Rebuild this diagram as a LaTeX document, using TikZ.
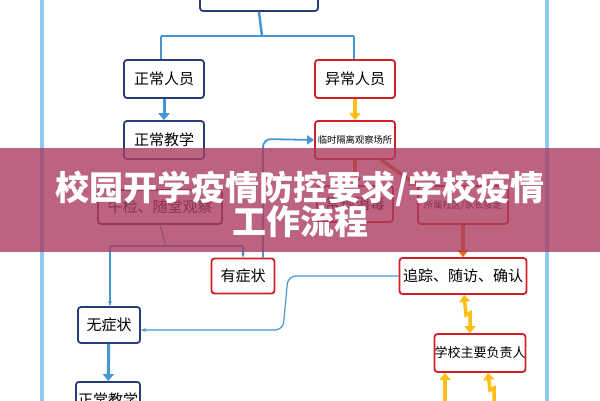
\documentclass[tikz,border=0pt]{standalone}
\usepackage{fontspec}
\newfontfamily\cjk{Noto Sans CJK SC}
\usetikzlibrary{arrows.meta}
\definecolor{bluebox}{RGB}{40,60,120}
\definecolor{redbox}{RGB}{210,30,40}
\definecolor{lblue}{RGB}{70,150,210}
\definecolor{frame}{RGB}{140,200,240}
\definecolor{yel}{RGB}{250,190,20}
\definecolor{ora}{RGB}{230,110,20}
\definecolor{banner}{RGB}{170,60,95}
\tikzset{
 bx/.style={draw=bluebox,line width=1.8pt,rounded corners=3pt,fill=white,font=\cjk\fontsize{15}{15}\selectfont,inner sep=0pt,minimum height=#1},
 bx/.default=38pt,
 rx/.style={bx=#1,draw=redbox},
 rx/.default=38pt,
 ln/.style={draw=lblue,line width=1.2pt},
 big/.style={draw=lblue,line width=3pt,-{Triangle[length=7pt,width=11pt]}},
 yarr/.style={draw=yel,line width=3.5pt,-{Triangle[length=7pt,width=11pt]}},
 oarr/.style={draw=ora,line width=3.5pt,-{Triangle[length=7pt,width=11pt]}},
}
\begin{document}
\begin{tikzpicture}[x=1pt,y=-1pt]
\useasboundingbox (0,0) rectangle (600,400);
\fill[white] (0,0) rectangle (600,400);
\draw[frame,line width=4pt] (42,-5) -- (42,405);
\draw[frame,line width=4pt] (547,-5) -- (547,405);
% nodes
\node[bx,minimum width=118pt] (top) at (259,-8) {};
\node[bx,minimum width=80pt] (zr) at (164,79) {正常人员};
\node[rx,minimum width=80pt] (yr) at (355,79) {异常人员};
\node[bx,minimum width=80pt] (zj) at (164,140) {正常教学};
\node[rx,minimum width=80pt,font=\cjk\fontsize{9.3}{9.3}\selectfont] (lc) at (355,140) {临时隔离观察场所};
\node[bx=34pt,minimum width=124pt,draw=bluebox!70!red] (wj) at (160,207) {午检、随堂观察};
\node[rx=36pt,minimum width=76pt] (xd) at (355,204) {常规消毒};
\node[rx=38pt,minimum width=90pt,font=\cjk\fontsize{9.3}{9.3}\selectfont] (sq) at (463,205) {所属社区/家长接走};
\node[rx=35pt,minimum width=63pt] (yz) at (243,276) {有症状};
\node[rx=36pt,minimum width=127pt] (zz) at (463,276) {追踪、随访、确认};
\node[bx=36pt,minimum width=62pt] (wz) at (109,325) {无症状};
\node[bx=36pt,minimum width=64pt,anchor=north] (zj2) at (108,381) {正常教学};
\node[rx=38pt,minimum width=88pt,font=\cjk\fontsize{13}{13}\selectfont] (xx) at (480,353) {学校主要负责人};
% connectors
\draw[ln,line width=2.5pt] (top.south) -- (262,36) coordinate (c0);
\draw[ln] (161,36) -- (354,36);
\draw[ln] (161,36) -- (zr.north -| 161,0);
\draw[ln] (354,36) -- (yr.north -| 354,0);
\draw[big] (zr) -- (zj);
\draw[yarr] (yr) -- (lc);
\draw[oarr] (lc) -- (xd);
\draw[oarr] ([xshift=-15pt]lc.south east) -- (sq.north west);
\draw[oarr] (sq) -- (zz);
\draw[ln] (wj.south) -- (166,246) coordinate (c1);
\draw[ln] (110,246) -- (243,246);
\draw[ln,-{Stealth[length=5pt]}] (110,246) -- (wz.north -| 110,0);
\draw[ln,-{Stealth[length=5pt]}] (243,246) -- (yz.north);
\draw[ln,line width=1.8pt,-{Triangle[length=7pt,width=9pt]},rounded corners=8pt] (yz.north -| 263,0) -- (263,139) -- (lc.west);
\draw[ln,-{Stealth[length=5pt]},rounded corners=8pt] (zz.west) -- (288,276) -- (283,330) -- (wz.east |- 0,330);
\draw[big] (wz) -- (zj2);
\draw[yarr,{Triangle[length=7pt,width=11pt]}-{Triangle[length=7pt,width=11pt]}] (zz.south -| 464,0) -- (466,315) -- (470,313) -- (xx.north -| 470,0);
\draw[yarr] (445,405) -- (xx.south -| 445,0);
\draw[yarr,{Triangle[length=7pt,width=11pt]}-] (xx.south -| 488,0) -- (490,390) -- (494,388) -- (494,405);
% banner
\fill[banner,opacity=0.8] (0,148) rectangle (600,252);
\node[text=white,font=\cjk\bfseries\fontsize{34}{34}\selectfont] (t1) at (300,189) {校园开学疫情防控要求/学校疫情};
\node[text=white,font=\cjk\bfseries\fontsize{34}{34}\selectfont] (t2) at (300,222) {工作流程};
\end{tikzpicture}
\end{document}
